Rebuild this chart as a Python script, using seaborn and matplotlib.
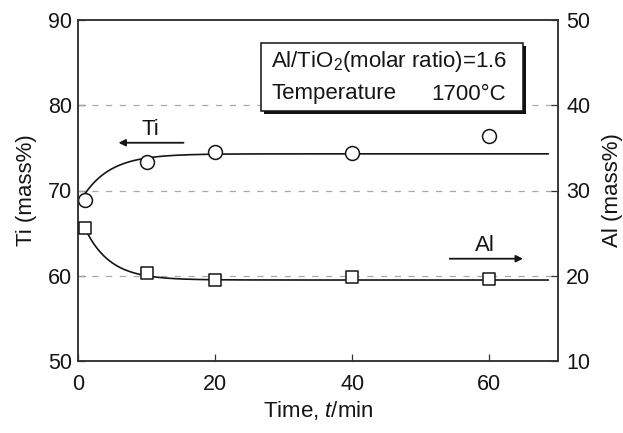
import numpy as np
import pandas as pd
import matplotlib
matplotlib.use("Agg")
import matplotlib.pyplot as plt
from matplotlib.patches import Rectangle
import seaborn as sns

# Measured compositions of the reduced metal
time_min = [1, 10, 20, 40, 60]
ti_mass = [68.9, 73.3, 74.5, 74.4, 76.4]
al_mass = [25.6, 20.3, 19.5, 19.9, 19.6]

# First-order approach to steady state used for the guide curves
ti_start, ti_plateau, ti_tau = 69.6, 74.3, 4.0
al_start, al_plateau, al_tau = 25.6, 19.5, 3.6
curve_t0, curve_t1 = 1.0, 68.6

left_ticks = [50, 60, 70, 80, 90]
right_ticks = [10, 20, 30, 40, 50]
x_ticks = [0, 20, 40, 60]

sns.set_style("ticks")
plt.rcParams["font.family"] = ["Liberation Sans", "DejaVu Sans"]
plt.rcParams["mathtext.fontset"] = "custom"
plt.rcParams["mathtext.rm"] = "Liberation Sans"
plt.rcParams["mathtext.it"] = "Liberation Sans:italic"

FS = 15.5
FS_LAB = 16
FS_BOX = 16
INK = "#151515"

fig = plt.figure(figsize=(6.23, 4.33), dpi=100)
ax = fig.add_axes([78 / 623, 1 - 361 / 433, 480 / 623, 341 / 433])
ax2 = ax.twinx()

tt = np.linspace(curve_t0, curve_t1, 300)
fit = pd.DataFrame({
    "t": tt,
    "Ti": ti_plateau - (ti_plateau - ti_start) * np.exp(-(tt - curve_t0) / ti_tau),
    "Al": al_plateau - (al_plateau - al_start) * np.exp(-(tt - curve_t0) / al_tau),
})
obs = pd.DataFrame({"t": time_min, "Ti": ti_mass, "Al": al_mass})

# reference lines
for v in [60, 70, 80]:
    ax.axhline(v, color="#a8a8a8", lw=0.9, ls=(0, (5, 6)), zorder=1)

sns.lineplot(data=fit, x="t", y="Ti", ax=ax, color=INK, lw=1.2, zorder=3)
sns.scatterplot(data=obs, x="t", y="Ti", ax=ax, marker="o", s=100,
                facecolor="white", edgecolor=INK, linewidth=1.1, zorder=4)
sns.lineplot(data=fit, x="t", y="Al", ax=ax2, color=INK, lw=1.2, zorder=3)
sns.scatterplot(data=obs, x="t", y="Al", ax=ax2, marker="s", s=85,
                facecolor="white", edgecolor=INK, linewidth=1.1, zorder=4)

ax.set_xlim(0, 70)
ax.set_ylim(50, 90)
ax2.set_ylim(10, 50)
ax.set_xticks(x_ticks)
ax.set_yticks(left_ticks)
ax2.set_yticks(right_ticks)

for a in (ax, ax2):
    for s in a.spines.values():
        s.set_visible(True)
        s.set_color("#333333")
        s.set_linewidth(1.1)
ax.tick_params(axis="both", direction="in", length=5, width=0.9, color="#333333",
               labelsize=FS, labelcolor=INK)
ax.tick_params(axis="x", pad=9)
ax.tick_params(axis="y", pad=4)
ax2.tick_params(axis="y", direction="in", length=5, width=0.9, color="#333333",
                labelsize=FS, labelcolor=INK, pad=6)

ax.set_xlabel("Time, $t$/min", fontsize=FS_LAB, color=INK, labelpad=3)
ax.set_ylabel("Ti (mass%)", fontsize=FS_LAB, color=INK, labelpad=8)
ax2.set_ylabel("Al (mass%)", fontsize=FS_LAB, color=INK, labelpad=8)

# direction arrows
ax.annotate("", xy=(5.5, 75.6), xytext=(15.8, 75.6),
            arrowprops=dict(arrowstyle="-|>", color=INK, lw=1.3,
                            mutation_scale=10))
ax.text(10.6, 77.2, "Ti", fontsize=FS_LAB, ha="center", va="center", color=INK)
ax2.annotate("", xy=(65.3, 22.0), xytext=(53.8, 22.0),
             arrowprops=dict(arrowstyle="-|>", color=INK, lw=1.3,
                             mutation_scale=10))
ax2.text(59.4, 23.5, "Al", fontsize=FS_LAB, ha="center", va="center", color=INK)

# conditions box with drop shadow
bx0, bx1 = (261 - 78) / 480, (523 - 78) / 480
by0, by1 = (361 - 111) / 341, (361 - 43) / 341
dx, dy = 3 / 480, 3 / 341
ax2.add_patch(Rectangle((bx0 + dx, by0 - dy), bx1 - bx0, by1 - by0,
                        transform=ax2.transAxes, facecolor="#111111",
                        edgecolor="none", zorder=5))
ax2.add_patch(Rectangle((bx0, by0), bx1 - bx0, by1 - by0,
                        transform=ax2.transAxes, facecolor="white",
                        edgecolor="#111111", lw=1.1, zorder=6))
tx = (271 - 78) / 480
ax2.text(tx, (361 - 62) / 341, "Al/TiO$_2$(molar ratio)=1.6", transform=ax2.transAxes,
         fontsize=FS_BOX, ha="left", va="center", color=INK, zorder=7)
ax2.text(tx, (361 - 94) / 341, "Temperature", transform=ax2.transAxes,
         fontsize=FS_BOX, ha="left", va="center", color=INK, zorder=7)
ax2.text((506 - 78) / 480, (361 - 94) / 341, "1700°C", transform=ax2.transAxes,
         fontsize=FS_BOX, ha="right", va="center", color=INK, zorder=7)

fig.savefig("out.png", dpi=100)
